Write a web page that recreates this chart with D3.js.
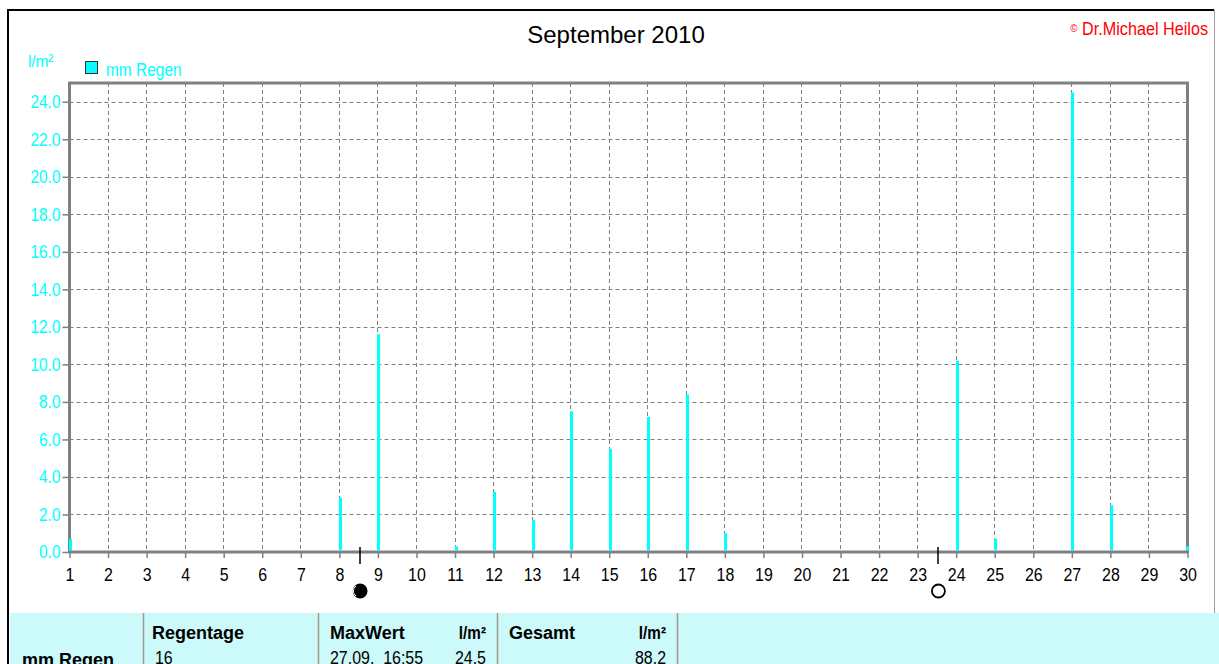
<!DOCTYPE html>
<html><head><meta charset="utf-8">
<script src="https://cdn.jsdelivr.net/npm/d3@7"></script>
<style>body{margin:0;background:#fff;}svg{display:block;font-family:"Liberation Sans",Arial,sans-serif;}</style>
</head><body>
<svg id="c" width="1219" height="664"></svg>
<script>
const days = d3.range(1, 31);
const rainDays = [1, 8, 9, 11, 12, 13, 14, 15, 16, 17, 18, 24, 25, 27, 28, 30];
const rainValues = [0.7, 2.9, 11.6, 0.3, 3.2, 1.7, 7.5, 5.5, 7.2, 8.4, 1.0, 10.2, 0.7, 24.5, 2.5, 0.3];
const yTicks = [0, 2, 4, 6, 8, 10, 12, 14, 16, 18, 20, 22, 24];
const moonPhases = [{day: 8.5, type: "new"}, {day: 23.5, type: "full"}];
const tableCols = [
  {head: "", val: "mm Regen"},
  {head: "Regentage", val: "16"},
  {head: "MaxWert", unit: "l/m²", val: "27.09.  16:55", val2: "24.5"},
  {head: "Gesamt", unit: "l/m²", val: "", val2: "88.2"}
];

// horizontal squeeze of a text, anchored at its x attribute
function narrow(sel, k) {
  sel.attr("transform", function () {
    const ax = +(this.getAttribute("x") || 0);
    return `translate(${ax * (1 - k)},0) scale(${k},1)`;
  });
}

const svg = d3.select("#c");
const L = 69.5, R = 1187.5, T = 83, B = 552;
const x = d3.scaleLinear().domain([1, 30]).range([L, R]);
const y = d3.scaleLinear().domain([0, 25]).range([B, T]);
const cyan = "#00ffff", grid = "#808080";

// outer frame
svg.append("line").attr("x1", 8).attr("x2", 8).attr("y1", 10).attr("y2", 664).attr("stroke", "#000").attr("stroke-width", 2);
svg.append("line").attr("x1", 7).attr("x2", 1214).attr("y1", 10).attr("y2", 10).attr("stroke", "#000").attr("stroke-width", 2);
svg.append("line").attr("x1", 1214.5).attr("x2", 1214.5).attr("y1", 10).attr("y2", 613).attr("stroke", "#a0a0a0").attr("stroke-width", 1);

// gridlines
svg.append("g").selectAll("line").data(yTicks.filter(v => v > 0)).join("line")
  .attr("x1", L).attr("x2", R).attr("y1", d => Math.round(y(d)) + 0.5).attr("y2", d => Math.round(y(d)) + 0.5)
  .attr("stroke", grid).attr("stroke-dasharray", "4,3");
svg.append("g").selectAll("line").data(days.slice(1, -1)).join("line")
  .attr("x1", d => Math.floor(x(d)) + 0.5).attr("x2", d => Math.floor(x(d)) + 0.5).attr("y1", T).attr("y2", B)
  .attr("stroke", grid).attr("stroke-dasharray", "4,3");

// plot frame
svg.append("rect").attr("x", L).attr("y", T).attr("width", R - L).attr("height", B - T)
  .attr("fill", "none").attr("stroke", grid).attr("stroke-width", 3);

// bars
svg.append("g").selectAll("rect").data(rainDays).join("rect")
  .attr("x", (d) => Math.floor(x(d)) - (d === 30 ? 1 : 0))
  .attr("width", 3)
  .attr("y", (d, i) => y(rainValues[i]))
  .attr("height", (d, i) => B - 1.5 - y(rainValues[i]))
  .attr("fill", cyan);

// y axis
const yAxis = d3.axisLeft(y).tickValues(yTicks).tickFormat(d3.format(".1f")).tickSize(6).tickPadding(2);
const gy = svg.append("g").attr("transform", `translate(${L - 1},0)`).call(yAxis);
gy.select(".domain").remove();
gy.selectAll(".tick line").attr("stroke", grid).attr("stroke-width", 1.5);
gy.selectAll(".tick text").attr("fill", cyan).attr("font-size", 18).attr("font-family", "Liberation Sans, Arial").call(narrow, 0.86);

// x axis
const xAxis = d3.axisBottom(x).tickValues(days).tickFormat(d3.format("d")).tickSize(6).tickPadding(10);
const gx = svg.append("g").attr("transform", `translate(0,${B})`).call(xAxis);
gx.select(".domain").remove();
gx.selectAll(".tick line").attr("stroke", grid).attr("stroke-width", 1.5);
gx.selectAll(".tick text").attr("fill", "#000").attr("font-size", 19).attr("font-family", "Liberation Sans, Arial").call(narrow, 0.84);

// moon phases
const mg = svg.append("g").selectAll("g").data(moonPhases).join("g");
mg.append("line").attr("x1", d => Math.round(x(d.day)) + 1).attr("x2", d => Math.round(x(d.day)) + 1)
  .attr("y1", 547).attr("y2", 564).attr("stroke", "#000").attr("stroke-width", 1.5);
mg.append("circle").attr("cx", d => x(d.day) + 1.5).attr("cy", 591).attr("r", 6.5)
  .attr("fill", d => d.type === "new" ? "#000" : "#fff").attr("stroke", "#000").attr("stroke-width", 1.8);
mg.filter(d => d.type === "new").append("path")
  .attr("d", d => `M${x(d.day) - 2.5},586 a6,6 0 0,0 0,10`).attr("fill", "none").attr("stroke", "#fff").attr("stroke-width", 1);

// title and labels
svg.append("text").attr("x", 616).attr("y", 43).attr("text-anchor", "middle").attr("font-size", 24).attr("fill", "#000").text("September 2010");
svg.append("text").attr("x", 1208).attr("y", 35).attr("text-anchor", "end").attr("font-size", 18).attr("fill", "#ff0000")
  .call(t => { t.append("tspan").attr("font-size", 11).attr("dy", -3).text("©"); t.append("tspan").attr("dy", 3).text(" Dr.Michael Heilos"); })
  .call(narrow, 0.9);
svg.append("text").attr("x", 28).attr("y", 67).attr("font-size", 17).attr("fill", cyan).text("l/m²").call(narrow, 0.9);
svg.append("rect").attr("x", 85.5).attr("y", 61.5).attr("width", 12).attr("height", 12).attr("fill", cyan).attr("stroke", "#333").attr("stroke-width", 1);
svg.append("text").attr("x", 106).attr("y", 76).attr("font-size", 18).attr("fill", cyan).text("mm Regen").call(narrow, 0.86);

// bottom table
svg.append("rect").attr("x", 10).attr("y", 613).attr("width", 1209).attr("height", 51).attr("fill", "#ccf9f9");
const seps = [143, 318, 497, 677];
svg.append("g").selectAll("line").data(seps).join("line")
  .attr("x1", d => d + 0.5).attr("x2", d => d + 0.5).attr("y1", 613).attr("y2", 664)
  .attr("stroke", "#a09890").attr("stroke-width", 1.5);
const colX = [22, 152, 330, 509];
const unitX = [0, 0, 486, 666];
const tg = svg.append("g").attr("font-size", 18).attr("fill", "#000");
tableCols.forEach((c, i) => {
  if (c.head) tg.append("text").attr("x", colX[i]).attr("y", 639).attr("font-weight", "bold").text(c.head);
  if (c.unit) tg.append("text").attr("x", unitX[i]).attr("y", 639).attr("text-anchor", "end").attr("font-weight", "bold").text(c.unit).call(narrow, 0.85);
  if (i === 0) tg.append("text").attr("x", colX[i]).attr("y", 666).attr("font-weight", "bold").text(c.val);
  else tg.append("text").attr("x", colX[i] + (i === 1 ? 3 : 0)).attr("y", 664).attr("font-size", 19).attr("xml:space", "preserve").text(c.val).call(narrow, 0.84);
  if (c.val2) tg.append("text").attr("x", unitX[i]).attr("y", 664).attr("text-anchor", "end").attr("font-size", 19).text(c.val2).call(narrow, 0.84);
});
</script>
</body></html>
